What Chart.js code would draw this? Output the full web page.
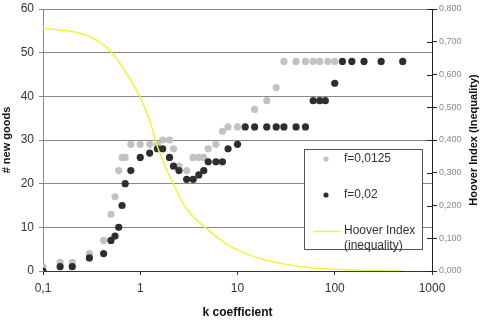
<!DOCTYPE html>
<html>
<head>
<meta charset="utf-8">
<script src="https://cdn.jsdelivr.net/npm/chart.js@4"></script>
<style>
  html, body { margin: 0; padding: 0; background: #fff; }
  #chart { display: block; }
</style>
</head>
<body>
<canvas id="chart" width="480" height="320"></canvas>
<script>
// f=0,0125 series (light gray dots)
const kLight = [0.1, 0.15, 0.2, 0.3, 0.42, 0.5, 0.55, 0.6, 0.65, 0.7, 0.8, 1, 1.25, 1.5, 1.7, 2, 2.2, 2.5, 3, 3.5, 4, 4.5, 5, 6, 7, 8, 10, 15, 20, 25, 30, 40, 50, 60, 70, 85, 100];
const goodsLight = [1, 2, 2, 4, 7, 13, 17, 23, 26, 26, 29, 29, 29, 29, 30, 30, 28, 24, 23, 26, 26, 26, 28, 29, 32, 33, 33, 37, 39, 42, 48, 48, 48, 48, 48, 48, 48];

// f=0,02 series (dark dots)
const kDark = [0.1, 0.15, 0.2, 0.3, 0.42, 0.5, 0.55, 0.6, 0.65, 0.7, 0.8, 1, 1.25, 1.5, 1.7, 2, 2.2, 2.5, 3, 3.5, 4, 4.5, 5, 6, 7, 8, 10, 12, 15, 20, 25, 30, 40, 50, 60, 70, 80, 100, 120, 150, 200, 300, 500];
const goodsDark = [0, 1, 1, 3, 4, 7, 8, 10, 15, 20, 23, 26, 27, 28, 28, 26, 24, 23, 21, 21, 22, 23, 25, 25, 25, 28, 29, 33, 33, 33, 33, 33, 33, 33, 39, 39, 39, 43, 48, 48, 48, 48, 48];

// Hoover index curve (right axis)
const kHoover = [0.1, 0.2, 0.3, 0.4, 0.5, 0.7, 1, 1.25, 1.5, 2, 3, 5, 8, 13, 20, 40, 100, 200, 500];
const hoover = [0.741, 0.731, 0.716, 0.695, 0.67, 0.61, 0.53, 0.46, 0.38, 0.29, 0.19, 0.125, 0.08, 0.05, 0.033, 0.015, 0.005, 0.002, 0.0];

const kTicks = [0.1, 1, 10, 100, 1000];
const legendLabels = ["f=0,0125", "f=0,02", ["Hoover Index", "(inequality)"]];
const rightTitle = "Hoover Index (Inequality)";

const pts = (xs, ys) => xs.map((x, i) => ({ x: x, y: ys[i] }));
const comma = v => String(v).replace(".", ",");

const FONT = "'Liberation Sans', Arial, sans-serif";

// legend box inside the plot + right axis extras (inner ticks, upward title)
const extras = {
  id: "extras",
  afterDraw(chart) {
    const ctx = chart.ctx;
    const ds = chart.data.datasets;
    ctx.save();

    // inner half of the right axis tick marks
    const y2 = chart.scales.y2;
    ctx.strokeStyle = "#222";
    ctx.lineWidth = 1;
    y2.ticks.forEach(t => {
      const py = Math.round(y2.getPixelForValue(t.value)) + 0.5;
      ctx.beginPath();
      ctx.moveTo(y2.left - 5, py);
      ctx.lineTo(y2.left, py);
      ctx.stroke();
    });

    // right axis title, reading bottom to top
    ctx.save();
    ctx.translate(474, (chart.chartArea.top + chart.chartArea.bottom) / 2);
    ctx.rotate(-Math.PI / 2);
    ctx.font = "bold 11px " + FONT;
    ctx.fillStyle = "#111";
    ctx.textAlign = "center";
    ctx.textBaseline = "middle";
    ctx.fillText(rightTitle, 0, 0);
    ctx.restore();

    // legend
    const x0 = 304, y0 = 149, w = 118, h = 100;
    ctx.fillStyle = "#fff";
    ctx.fillRect(x0, y0, w, h);
    ctx.strokeStyle = "#555";
    ctx.lineWidth = 1;
    ctx.strokeRect(x0 + 0.5, y0 + 0.5, w, h);
    ctx.font = "12px " + FONT;
    ctx.textBaseline = "middle";
    ctx.beginPath();
    ctx.arc(326, 159, 2.6, 0, Math.PI * 2);
    ctx.fillStyle = ds[0].backgroundColor;
    ctx.fill();
    ctx.beginPath();
    ctx.arc(326, 195, 2.6, 0, Math.PI * 2);
    ctx.fillStyle = ds[1].backgroundColor;
    ctx.fill();
    ctx.beginPath();
    ctx.moveTo(313, 231.5);
    ctx.lineTo(341, 231.5);
    ctx.strokeStyle = ds[2].borderColor;
    ctx.lineWidth = 1.5;
    ctx.stroke();
    ctx.fillStyle = "#333";
    ctx.fillText(legendLabels[0], 344, 159);
    ctx.fillText(legendLabels[1], 344, 195);
    ctx.fillText(legendLabels[2][0], 344, 231);
    ctx.fillText(legendLabels[2][1], 344, 246);
    ctx.restore();
  }
};

new Chart(document.getElementById("chart"), {
  type: "scatter",
  data: {
    datasets: [
      {
        label: legendLabels[0],
        data: pts(kLight, goodsLight),
        backgroundColor: "#c2c2c2",
        borderColor: "#c2c2c2",
        pointRadius: 3.6,
        pointBorderWidth: 0,
        yAxisID: "y",
        order: 3
      },
      {
        label: legendLabels[1],
        data: pts(kDark, goodsDark),
        backgroundColor: "#2e2e2e",
        borderColor: "#2e2e2e",
        pointRadius: 3.6,
        pointBorderWidth: 0,
        yAxisID: "y",
        order: 2
      },
      {
        label: "Hoover Index (inequality)",
        data: pts(kHoover, hoover),
        showLine: true,
        borderColor: "#f2f23a",
        borderWidth: 1.5,
        pointRadius: 0,
        cubicInterpolationMode: "monotone",
        yAxisID: "y2",
        order: 1
      }
    ]
  },
  options: {
    responsive: false,
    animation: false,
    devicePixelRatio: 1,
    layout: { padding: { top: 9, left: 0, right: 0, bottom: 0 } },
    plugins: {
      legend: { display: false },
      tooltip: { enabled: false }
    },
    scales: {
      x: {
        type: "logarithmic",
        min: 0.1,
        max: 1000,
        afterBuildTicks: s => { s.ticks = kTicks.map(v => ({ value: v })); },
        afterFit: s => { s.height = 49; },
        border: { color: "#333", width: 1 },
        grid: { drawOnChartArea: false, tickLength: 4, color: "#333" },
        ticks: {
          callback: v => comma(v),
          color: "#333",
          font: { family: FONT, size: 12 },
          padding: 6,
          maxRotation: 0
        },
        title: {
          display: true,
          text: "k coefficient",
          color: "#111",
          font: { family: FONT, size: 12, weight: "bold" },
          padding: { top: 1, bottom: 0 }
        }
      },
      y: {
        position: "left",
        min: 0,
        max: 60,
        afterFit: s => { s.width = 43; s.paddingTop = 5; s.paddingBottom = 5; },
        border: { color: "#888", width: 1 },
        grid: { color: "#888", lineWidth: 1, tickLength: 4 },
        ticks: {
          stepSize: 10,
          color: "#333",
          font: { family: FONT, size: 12 },
          padding: 5
        },
        title: {
          display: true,
          text: "# new goods",
          color: "#111",
          font: { family: FONT, size: 11, weight: "bold" },
          padding: { top: 0, bottom: 0 }
        }
      },
      y2: {
        position: "right",
        min: 0,
        max: 0.8,
        afterFit: s => { s.width = 48; s.paddingTop = 5; s.paddingBottom = 5; },
        border: { color: "#222", width: 1 },
        grid: { drawOnChartArea: false, tickLength: 5, color: "#222" },
        ticks: {
          stepSize: 0.1,
          callback: v => v.toFixed(3).replace(".", ","),
          color: "#888",
          font: { family: FONT, size: 9 },
          padding: 2
        },
        title: { display: false }
      }
    }
  },
  plugins: [extras]
});
</script>
</body>
</html>
